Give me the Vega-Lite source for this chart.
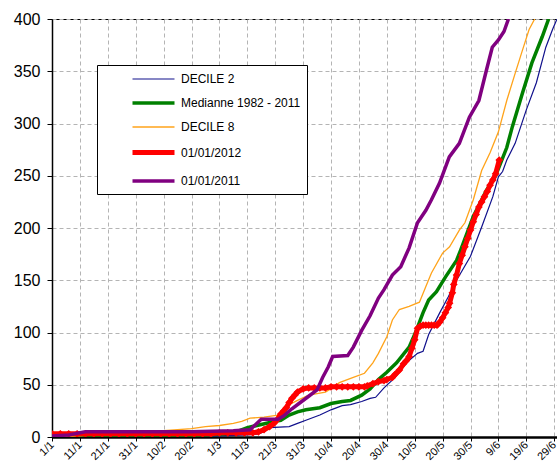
{
  "$schema": "https://vega.github.io/schema/vega-lite/v6.json",
  "width": 505,
  "height": 418,
  "autosize": {"type": "none"},
  "padding": {"left": 52, "top": 19, "right": 0, "bottom": 28},
  "background": "white",
  "config": {
    "font": "Liberation Sans",
    "view": {"stroke": "black", "strokeWidth": 1},
    "axis": {"gridColor": "#b4b4b4", "gridDash": [4, 3], "gridWidth": 1, "domainColor": "black", "tickColor": "black", "labelColor": "black", "titleColor": "black"}
  },
  "data": {
    "values": [
      {"series": "DECILE 2", "day": 0, "value": 0},
      {"series": "DECILE 2", "day": 30, "value": 0},
      {"series": "DECILE 2", "day": 60, "value": 1},
      {"series": "DECILE 2", "day": 70, "value": 2},
      {"series": "DECILE 2", "day": 74, "value": 3},
      {"series": "DECILE 2", "day": 76, "value": 5},
      {"series": "DECILE 2", "day": 78, "value": 9},
      {"series": "DECILE 2", "day": 85, "value": 10},
      {"series": "DECILE 2", "day": 88, "value": 13},
      {"series": "DECILE 2", "day": 91, "value": 16},
      {"series": "DECILE 2", "day": 96, "value": 21},
      {"series": "DECILE 2", "day": 100, "value": 26},
      {"series": "DECILE 2", "day": 104, "value": 30},
      {"series": "DECILE 2", "day": 107, "value": 31},
      {"series": "DECILE 2", "day": 111, "value": 34},
      {"series": "DECILE 2", "day": 114, "value": 37},
      {"series": "DECILE 2", "day": 116, "value": 38},
      {"series": "DECILE 2", "day": 119, "value": 47},
      {"series": "DECILE 2", "day": 123, "value": 57},
      {"series": "DECILE 2", "day": 127, "value": 71},
      {"series": "DECILE 2", "day": 131, "value": 80},
      {"series": "DECILE 2", "day": 133, "value": 82},
      {"series": "DECILE 2", "day": 135, "value": 98},
      {"series": "DECILE 2", "day": 139, "value": 119},
      {"series": "DECILE 2", "day": 142, "value": 134},
      {"series": "DECILE 2", "day": 145, "value": 150},
      {"series": "DECILE 2", "day": 150, "value": 173},
      {"series": "DECILE 2", "day": 154, "value": 201},
      {"series": "DECILE 2", "day": 158, "value": 230},
      {"series": "DECILE 2", "day": 160, "value": 249},
      {"series": "DECILE 2", "day": 161.5, "value": 254},
      {"series": "DECILE 2", "day": 163, "value": 265},
      {"series": "DECILE 2", "day": 166, "value": 281},
      {"series": "DECILE 2", "day": 170, "value": 313},
      {"series": "DECILE 2", "day": 173.6, "value": 339},
      {"series": "DECILE 2", "day": 177, "value": 373},
      {"series": "DECILE 2", "day": 179.4, "value": 390},
      {"series": "DECILE 2", "day": 181, "value": 400},

      {"series": "Medianne 1982 - 2011", "day": 0, "value": 0},
      {"series": "Medianne 1982 - 2011", "day": 20, "value": 0},
      {"series": "Medianne 1982 - 2011", "day": 40, "value": 1},
      {"series": "Medianne 1982 - 2011", "day": 55, "value": 2},
      {"series": "Medianne 1982 - 2011", "day": 62, "value": 3},
      {"series": "Medianne 1982 - 2011", "day": 66, "value": 5},
      {"series": "Medianne 1982 - 2011", "day": 70, "value": 9},
      {"series": "Medianne 1982 - 2011", "day": 75, "value": 12},
      {"series": "Medianne 1982 - 2011", "day": 80, "value": 15},
      {"series": "Medianne 1982 - 2011", "day": 82, "value": 16},
      {"series": "Medianne 1982 - 2011", "day": 85, "value": 21},
      {"series": "Medianne 1982 - 2011", "day": 88, "value": 24},
      {"series": "Medianne 1982 - 2011", "day": 91, "value": 26},
      {"series": "Medianne 1982 - 2011", "day": 96, "value": 28},
      {"series": "Medianne 1982 - 2011", "day": 100, "value": 32},
      {"series": "Medianne 1982 - 2011", "day": 104, "value": 34},
      {"series": "Medianne 1982 - 2011", "day": 107, "value": 35},
      {"series": "Medianne 1982 - 2011", "day": 111, "value": 40},
      {"series": "Medianne 1982 - 2011", "day": 114, "value": 46},
      {"series": "Medianne 1982 - 2011", "day": 117, "value": 55},
      {"series": "Medianne 1982 - 2011", "day": 120, "value": 62},
      {"series": "Medianne 1982 - 2011", "day": 123.5, "value": 71},
      {"series": "Medianne 1982 - 2011", "day": 128, "value": 86},
      {"series": "Medianne 1982 - 2011", "day": 130.6, "value": 102},
      {"series": "Medianne 1982 - 2011", "day": 133, "value": 119},
      {"series": "Medianne 1982 - 2011", "day": 135, "value": 131},
      {"series": "Medianne 1982 - 2011", "day": 137.8, "value": 139},
      {"series": "Medianne 1982 - 2011", "day": 141, "value": 153},
      {"series": "Medianne 1982 - 2011", "day": 145, "value": 169},
      {"series": "Medianne 1982 - 2011", "day": 146.5, "value": 179},
      {"series": "Medianne 1982 - 2011", "day": 151, "value": 211},
      {"series": "Medianne 1982 - 2011", "day": 155.7, "value": 236},
      {"series": "Medianne 1982 - 2011", "day": 159, "value": 250},
      {"series": "Medianne 1982 - 2011", "day": 163, "value": 277},
      {"series": "Medianne 1982 - 2011", "day": 165, "value": 297},
      {"series": "Medianne 1982 - 2011", "day": 168.6, "value": 329},
      {"series": "Medianne 1982 - 2011", "day": 172, "value": 358},
      {"series": "Medianne 1982 - 2011", "day": 175.7, "value": 383},
      {"series": "Medianne 1982 - 2011", "day": 178, "value": 400},

      {"series": "DECILE 8", "day": 0, "value": 0},
      {"series": "DECILE 8", "day": 10, "value": 1},
      {"series": "DECILE 8", "day": 20, "value": 3},
      {"series": "DECILE 8", "day": 30, "value": 5},
      {"series": "DECILE 8", "day": 40, "value": 6},
      {"series": "DECILE 8", "day": 50, "value": 8},
      {"series": "DECILE 8", "day": 55, "value": 10},
      {"series": "DECILE 8", "day": 60, "value": 11},
      {"series": "DECILE 8", "day": 65, "value": 13},
      {"series": "DECILE 8", "day": 68, "value": 15},
      {"series": "DECILE 8", "day": 71, "value": 18},
      {"series": "DECILE 8", "day": 76, "value": 19},
      {"series": "DECILE 8", "day": 81, "value": 21},
      {"series": "DECILE 8", "day": 83, "value": 25},
      {"series": "DECILE 8", "day": 85, "value": 31},
      {"series": "DECILE 8", "day": 88, "value": 35},
      {"series": "DECILE 8", "day": 92, "value": 40},
      {"series": "DECILE 8", "day": 98, "value": 43},
      {"series": "DECILE 8", "day": 101, "value": 48},
      {"series": "DECILE 8", "day": 103, "value": 52},
      {"series": "DECILE 8", "day": 108, "value": 57},
      {"series": "DECILE 8", "day": 112, "value": 61},
      {"series": "DECILE 8", "day": 115, "value": 71},
      {"series": "DECILE 8", "day": 117, "value": 80},
      {"series": "DECILE 8", "day": 120, "value": 96},
      {"series": "DECILE 8", "day": 122, "value": 112},
      {"series": "DECILE 8", "day": 124.5, "value": 122},
      {"series": "DECILE 8", "day": 128, "value": 125},
      {"series": "DECILE 8", "day": 131.7, "value": 129},
      {"series": "DECILE 8", "day": 134, "value": 144},
      {"series": "DECILE 8", "day": 136, "value": 157},
      {"series": "DECILE 8", "day": 140, "value": 176},
      {"series": "DECILE 8", "day": 142.5, "value": 182},
      {"series": "DECILE 8", "day": 146, "value": 198},
      {"series": "DECILE 8", "day": 148, "value": 205},
      {"series": "DECILE 8", "day": 151, "value": 227},
      {"series": "DECILE 8", "day": 154, "value": 255},
      {"series": "DECILE 8", "day": 157, "value": 272},
      {"series": "DECILE 8", "day": 160, "value": 292},
      {"series": "DECILE 8", "day": 163, "value": 322},
      {"series": "DECILE 8", "day": 166, "value": 348},
      {"series": "DECILE 8", "day": 168.6, "value": 370},
      {"series": "DECILE 8", "day": 171, "value": 390},
      {"series": "DECILE 8", "day": 173, "value": 400},

      {"series": "01/01/2012", "day": 0, "value": 3},
      {"series": "01/01/2012", "day": 3, "value": 3},
      {"series": "01/01/2012", "day": 6, "value": 3},
      {"series": "01/01/2012", "day": 9, "value": 3},
      {"series": "01/01/2012", "day": 12, "value": 3},
      {"series": "01/01/2012", "day": 15, "value": 3},
      {"series": "01/01/2012", "day": 18, "value": 3},
      {"series": "01/01/2012", "day": 21, "value": 3},
      {"series": "01/01/2012", "day": 24, "value": 3},
      {"series": "01/01/2012", "day": 27, "value": 3},
      {"series": "01/01/2012", "day": 30, "value": 3},
      {"series": "01/01/2012", "day": 33, "value": 3},
      {"series": "01/01/2012", "day": 36, "value": 3},
      {"series": "01/01/2012", "day": 39, "value": 3},
      {"series": "01/01/2012", "day": 42, "value": 3},
      {"series": "01/01/2012", "day": 45, "value": 3},
      {"series": "01/01/2012", "day": 48, "value": 3},
      {"series": "01/01/2012", "day": 51, "value": 3},
      {"series": "01/01/2012", "day": 54, "value": 3},
      {"series": "01/01/2012", "day": 57, "value": 3},
      {"series": "01/01/2012", "day": 60, "value": 4},
      {"series": "01/01/2012", "day": 63, "value": 4},
      {"series": "01/01/2012", "day": 66, "value": 4},
      {"series": "01/01/2012", "day": 69, "value": 4},
      {"series": "01/01/2012", "day": 72, "value": 4},
      {"series": "01/01/2012", "day": 74, "value": 5},
      {"series": "01/01/2012", "day": 76, "value": 7},
      {"series": "01/01/2012", "day": 78, "value": 10},
      {"series": "01/01/2012", "day": 79.5, "value": 13},
      {"series": "01/01/2012", "day": 80.5, "value": 16},
      {"series": "01/01/2012", "day": 82, "value": 22},
      {"series": "01/01/2012", "day": 83, "value": 25},
      {"series": "01/01/2012", "day": 84, "value": 28},
      {"series": "01/01/2012", "day": 85, "value": 33},
      {"series": "01/01/2012", "day": 86, "value": 37},
      {"series": "01/01/2012", "day": 87, "value": 40},
      {"series": "01/01/2012", "day": 88, "value": 43},
      {"series": "01/01/2012", "day": 90, "value": 46},
      {"series": "01/01/2012", "day": 92, "value": 47},
      {"series": "01/01/2012", "day": 94, "value": 47},
      {"series": "01/01/2012", "day": 96, "value": 47},
      {"series": "01/01/2012", "day": 98, "value": 47},
      {"series": "01/01/2012", "day": 100, "value": 48},
      {"series": "01/01/2012", "day": 102, "value": 48},
      {"series": "01/01/2012", "day": 104, "value": 48},
      {"series": "01/01/2012", "day": 106, "value": 48},
      {"series": "01/01/2012", "day": 108, "value": 48},
      {"series": "01/01/2012", "day": 110, "value": 48},
      {"series": "01/01/2012", "day": 112, "value": 48},
      {"series": "01/01/2012", "day": 113, "value": 49},
      {"series": "01/01/2012", "day": 115, "value": 51},
      {"series": "01/01/2012", "day": 117, "value": 53},
      {"series": "01/01/2012", "day": 119, "value": 54},
      {"series": "01/01/2012", "day": 120, "value": 55},
      {"series": "01/01/2012", "day": 122, "value": 57},
      {"series": "01/01/2012", "day": 123, "value": 60},
      {"series": "01/01/2012", "day": 124.5, "value": 64},
      {"series": "01/01/2012", "day": 126, "value": 70},
      {"series": "01/01/2012", "day": 127, "value": 73},
      {"series": "01/01/2012", "day": 128, "value": 77},
      {"series": "01/01/2012", "day": 129, "value": 85},
      {"series": "01/01/2012", "day": 130, "value": 93},
      {"series": "01/01/2012", "day": 131, "value": 104},
      {"series": "01/01/2012", "day": 132, "value": 106},
      {"series": "01/01/2012", "day": 133, "value": 107},
      {"series": "01/01/2012", "day": 134, "value": 107},
      {"series": "01/01/2012", "day": 135, "value": 107},
      {"series": "01/01/2012", "day": 136, "value": 107},
      {"series": "01/01/2012", "day": 137, "value": 107},
      {"series": "01/01/2012", "day": 138, "value": 107},
      {"series": "01/01/2012", "day": 139, "value": 110},
      {"series": "01/01/2012", "day": 140, "value": 114},
      {"series": "01/01/2012", "day": 141, "value": 119},
      {"series": "01/01/2012", "day": 142, "value": 124},
      {"series": "01/01/2012", "day": 142.5, "value": 128},
      {"series": "01/01/2012", "day": 143.5, "value": 138},
      {"series": "01/01/2012", "day": 144, "value": 146},
      {"series": "01/01/2012", "day": 145, "value": 155},
      {"series": "01/01/2012", "day": 146, "value": 166},
      {"series": "01/01/2012", "day": 147, "value": 174},
      {"series": "01/01/2012", "day": 148, "value": 182},
      {"series": "01/01/2012", "day": 149, "value": 190},
      {"series": "01/01/2012", "day": 150, "value": 198},
      {"series": "01/01/2012", "day": 151, "value": 206},
      {"series": "01/01/2012", "day": 152, "value": 213},
      {"series": "01/01/2012", "day": 153, "value": 220},
      {"series": "01/01/2012", "day": 154, "value": 225},
      {"series": "01/01/2012", "day": 155, "value": 230},
      {"series": "01/01/2012", "day": 156, "value": 235},
      {"series": "01/01/2012", "day": 157, "value": 241},
      {"series": "01/01/2012", "day": 158, "value": 246},
      {"series": "01/01/2012", "day": 159, "value": 252},
      {"series": "01/01/2012", "day": 160.3, "value": 265},

      {"series": "01/01/2011", "day": 0, "value": 1},
      {"series": "01/01/2011", "day": 6, "value": 2},
      {"series": "01/01/2011", "day": 8, "value": 3},
      {"series": "01/01/2011", "day": 10, "value": 4},
      {"series": "01/01/2011", "day": 12, "value": 5},
      {"series": "01/01/2011", "day": 30, "value": 5},
      {"series": "01/01/2011", "day": 50, "value": 5},
      {"series": "01/01/2011", "day": 65, "value": 6},
      {"series": "01/01/2011", "day": 71, "value": 7},
      {"series": "01/01/2011", "day": 73, "value": 12},
      {"series": "01/01/2011", "day": 75, "value": 17},
      {"series": "01/01/2011", "day": 81, "value": 17},
      {"series": "01/01/2011", "day": 83, "value": 20},
      {"series": "01/01/2011", "day": 86, "value": 27},
      {"series": "01/01/2011", "day": 89, "value": 33},
      {"series": "01/01/2011", "day": 92, "value": 39},
      {"series": "01/01/2011", "day": 95, "value": 45},
      {"series": "01/01/2011", "day": 97, "value": 57},
      {"series": "01/01/2011", "day": 99, "value": 67},
      {"series": "01/01/2011", "day": 100.6, "value": 77},
      {"series": "01/01/2011", "day": 106, "value": 78},
      {"series": "01/01/2011", "day": 108, "value": 86},
      {"series": "01/01/2011", "day": 111, "value": 102},
      {"series": "01/01/2011", "day": 114, "value": 116},
      {"series": "01/01/2011", "day": 117, "value": 133},
      {"series": "01/01/2011", "day": 119, "value": 141},
      {"series": "01/01/2011", "day": 122, "value": 155},
      {"series": "01/01/2011", "day": 125, "value": 163},
      {"series": "01/01/2011", "day": 128, "value": 181},
      {"series": "01/01/2011", "day": 131, "value": 205},
      {"series": "01/01/2011", "day": 134, "value": 217},
      {"series": "01/01/2011", "day": 136, "value": 227},
      {"series": "01/01/2011", "day": 138.9, "value": 243},
      {"series": "01/01/2011", "day": 142.4, "value": 268},
      {"series": "01/01/2011", "day": 146, "value": 281},
      {"series": "01/01/2011", "day": 149.6, "value": 306},
      {"series": "01/01/2011", "day": 153, "value": 322},
      {"series": "01/01/2011", "day": 155.7, "value": 351},
      {"series": "01/01/2011", "day": 157.8, "value": 373},
      {"series": "01/01/2011", "day": 160, "value": 380},
      {"series": "01/01/2011", "day": 162, "value": 388},
      {"series": "01/01/2011", "day": 163.6, "value": 400}
    ]
  },
  "encoding": {
    "x": {
      "field": "day", "type": "quantitative",
      "scale": {"domain": [0, 181], "nice": false, "zero": false},
      "axis": {
        "title": null,
        "values": [0, 10, 20, 30, 40, 50, 60, 70, 80, 90, 100, 110, 120, 130, 140, 150, 160, 170, 180],
        "labelExpr": "timeFormat(datetime(2012, 0, 1 + datum.value), '%-d/%-m')",
        "labelAngle": -45, "labelAlign": "right", "labelBaseline": "middle",
        "labelFontSize": 11, "labelPadding": 2,
        "domainWidth": 2.5, "tickSize": 4, "tickWidth": 1,
        "grid": true, "labelOverlap": false, "labelBound": false, "labelFlush": false
      }
    },
    "y": {
      "field": "value", "type": "quantitative",
      "scale": {"domain": [0, 400], "nice": false},
      "axis": {
        "title": null,
        "values": [0, 50, 100, 150, 200, 250, 300, 350, 400],
        "labelFontSize": 16, "labelPadding": 7,
        "domainWidth": 1.5, "tickSize": 5, "tickWidth": 1,
        "grid": true
      }
    },
    "color": {
      "field": "series", "type": "nominal",
      "scale": {
        "domain": ["DECILE 2", "Medianne 1982 - 2011", "DECILE 8", "01/01/2012", "01/01/2011"],
        "range": ["#10108c", "#008000", "#ffa31a", "#ff0000", "#800080"]
      },
      "legend": {
        "title": null, "orient": "none", "legendX": 45, "legendY": 46,
        "direction": "vertical",
        "fillColor": "white", "strokeColor": "black", "padding": 6,
        "symbolType": "M-3,0L3,0", "symbolSize": 196, "symbolOffset": 41,
        "labelFontSize": 12, "labelOffset": 18, "labelColor": "black",
        "labelExpr": "datum.label + '      '",
        "rowPadding": 9, "symbolLimit": 0
      }
    },
    "strokeWidth": {
      "field": "series", "type": "nominal",
      "scale": {
        "type": "ordinal",
        "domain": ["DECILE 2", "Medianne 1982 - 2011", "DECILE 8", "01/01/2012", "01/01/2011"],
        "range": [1.2, 3.5, 1.3, 5, 3.5]
      },
      "legend": null
    }
  },
  "layer": [
    {"transform": [{"filter": "datum.series === 'DECILE 2'"}], "mark": {"type": "line", "clip": true}},
    {"transform": [{"filter": "datum.series === 'Medianne 1982 - 2011'"}], "mark": {"type": "line", "clip": true}},
    {"transform": [{"filter": "datum.series === 'DECILE 8'"}], "mark": {"type": "line", "clip": true}},
    {"transform": [{"filter": "datum.series === '01/01/2012'"}], "mark": {"type": "line", "clip": true}},
    {
      "transform": [{"filter": "datum.series === '01/01/2012'"}],
      "mark": {"type": "point", "shape": "diamond", "filled": true, "size": 60, "opacity": 1, "clip": true},
      "encoding": {"color": {"value": "#ff0000"}, "strokeWidth": {"value": 0}}
    },
    {"transform": [{"filter": "datum.series === '01/01/2011'"}], "mark": {"type": "line", "clip": true}}
  ]
}
